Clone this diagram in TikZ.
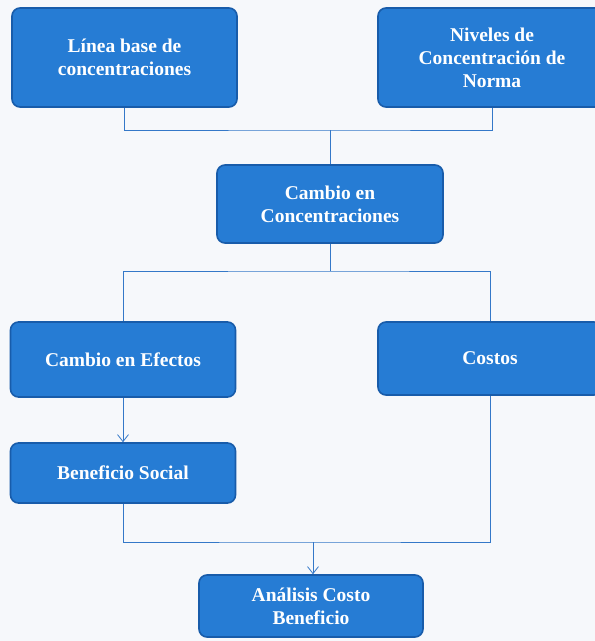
\documentclass[tikz,border=0pt]{standalone}
\usepackage{fontspec}
\setmainfont{Liberation Serif}
\usetikzlibrary{arrows.meta}
\definecolor{boxblue}{RGB}{38, 124, 212}
\definecolor{boxedge}{RGB}{24, 92, 170}
\definecolor{linkblue}{RGB}{52, 120, 200}
\definecolor{paper}{RGB}{246, 248, 251}

\begin{document}
\begin{tikzpicture}[
  x=1pt, y=-1pt,
  every node/.style={font=\bfseries\fontsize{19.5}{23}\selectfont},
  stage/.style={
    draw=boxedge, line width=1.6pt, fill=boxblue, rounded corners=8pt,
    text=white, align=center, inner sep=4pt
  },
  conn/.style={draw=linkblue, line width=0.8pt},
  arrow/.style={conn, -{Straight Barb[length=7pt, width=11pt]}}
]

  % Fondo y marco de la figura
  \fill[paper] (0,0) rectangle (595,641);
  \useasboundingbox (0,0) rectangle (595,641);

  % Cajas
  \node[stage, minimum width=225pt, minimum height=99pt] (base) at (124.5,57.5) {Línea base de\\concentraciones};
  \node[stage, minimum width=228pt, minimum height=99pt] (norma) at (492,57.5) {Niveles de\\Concentración de\\Norma};
  \node[stage, minimum width=226pt, minimum height=78pt] (cambio) at (330,204) {Cambio en\\Concentraciones};
  \node[stage, minimum width=225pt, minimum height=75pt] (efectos) at (123,359.5) {Cambio en Efectos};
  \node[stage, minimum width=224pt, minimum height=73pt] (costos) at (490,358.5) {Costos};
  \node[stage, minimum width=225pt, minimum height=60pt] (social) at (123,473) {Beneficio Social};
  \node[stage, minimum width=224pt, minimum height=62pt] (analisis) at (311,606) {Análisis Costo\\Beneficio};

  % Puntos de union
  \coordinate (j1) at (330,130);
  \coordinate (j2) at (330,271);
  \coordinate (j3) at (313,542);

  % Conectores
  \draw[conn] (base.south) |- (j1) -| (norma.south);
  \draw[conn] (j1) -- (cambio.north);
  \draw[conn] (cambio.south) -- (j2);
  \draw[conn] (efectos.north) |- (j2) -| (costos.north);
  \draw[arrow] (efectos.south) -- (social.north);
  \draw[conn] (social.south) |- (j3) -| (costos.south);
  \draw[arrow] (j3) -- (j3 |- analisis.north);

\end{tikzpicture}
\end{document}
